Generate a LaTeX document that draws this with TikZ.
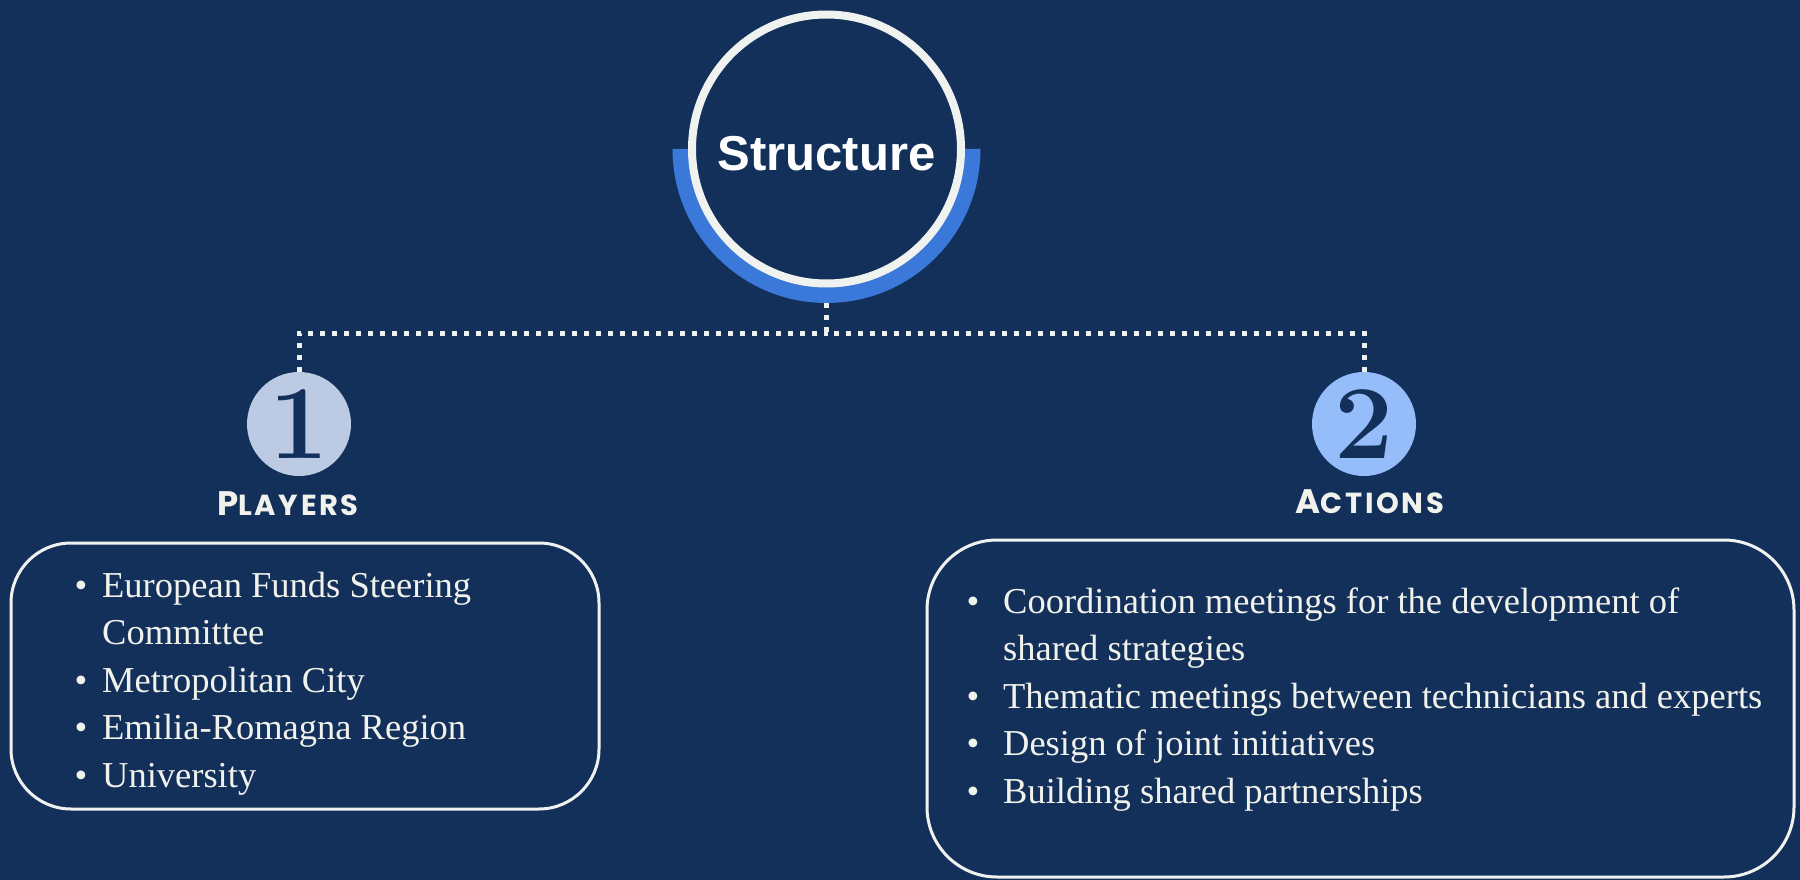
\documentclass[tikz,border=0pt]{standalone}
\usepackage{fontspec}
\usetikzlibrary{calc}
\newfontfamily\headfont{Liberation Sans}
\newfontfamily\capsfont{Poppins}[LetterSpace=9]
\newfontfamily\listfont{Liberation Serif}
\definecolor{navy}{HTML}{12305A}
\definecolor{arcblue}{HTML}{3A78D9}
\definecolor{ringwhite}{HTML}{F0F2F0}
\definecolor{paleblue}{HTML}{BCCBE3}
\definecolor{skyblue}{HTML}{94BDF9}
\definecolor{inkwhite}{HTML}{F2F2EC}
\newcommand{\heading}[2]{{\capsfont\bfseries\fontsize{34}{34}\selectfont #1\fontsize{29}{29}\selectfont #2}}
\newcommand{\bul}[1]{\makebox[#1][l]{\textbullet}}

\begin{document}
\begin{tikzpicture}[x=1pt,y=-1pt,
		dotline/.style={draw=ringwhite,line width=5pt,dash pattern=on 5pt off 7pt},
		numdisc/.style={circle,minimum size=104pt,inner sep=0pt,text=navy,font=\bfseries\fontsize{105}{105}\selectfont},
		capshead/.style={inner sep=0pt,text=inkwhite},
		listtext/.style={inner sep=0pt,text=inkwhite,font=\listfont\fontsize{36.5}{47.5}\selectfont},
		boxline/.style={draw=ringwhite,line width=3pt}]
			% Background
			\fill[navy] (0,0) rectangle (1800,880);
			
			% Title circle with blue half ring
			\fill[arcblue] (826.5,149) ++(-154,0) arc[start angle=180,end angle=0,radius=154]
				-- ++(-18,0) arc[start angle=0,end angle=180,radius=136] -- cycle;
			\node[circle,draw=ringwhite,line width=8pt,minimum size=269pt,inner sep=0pt] (struct) at (826.5,149) {};
			\node[inner sep=0pt,text=white,font=\headfont\bfseries\fontsize{49}{49}\selectfont] (title) at (826.5,154) {Structure};
			
			% Numbered discs
			\node[numdisc,fill=paleblue] (n1) at (299,424) {1};
			\node[numdisc,fill=skyblue] (n2) at (1364,424) {2};
			
			% Dotted connectors
			\coordinate (arcbot) at (826.5,303);
			\coordinate (hub) at (826.5,333);
			\draw[dotline] (arcbot) -- (hub);
			\draw[dotline] (n1.north) |- (hub);
			\draw[dotline] (n2.north) |- (hub);
			
			% Headings
			\node[capshead,anchor=base] (h1) at (288,515) {\heading{P}{LAYERS}};
			\node[capshead,anchor=base] (h2) at (1370,513) {\heading{A}{CTIONS}};
			
			% Boxes
			\draw[boxline,rounded corners=60pt] (11,543) rectangle (599,809);
			\draw[boxline,rounded corners=70pt] (927,540) rectangle (1794,877);
			
			% Lists
			\node[listtext,anchor=north west] (plist) at (74.5,563.75) {\begin{tabular}{@{}l@{}l@{}}
				\bul{27.5pt} & European Funds Steering\\
				& Committee\\
				\bul{27.5pt} & Metropolitan City\\
				\bul{27.5pt} & Emilia-Romagna Region\\
				\bul{27.5pt} & University
			\end{tabular}};
			\node[listtext,anchor=north west] (alist) at (966.5,579.75) {\begin{tabular}{@{}l@{}l@{}}
				\bul{36.5pt} & Coordination meetings for the development of\\
				& shared strategies\\
				\bul{36.5pt} & Thematic meetings between technicians and experts\\
				\bul{36.5pt} & Design of joint initiatives\\
				\bul{36.5pt} & Building shared partnerships
			\end{tabular}};
		\end{tikzpicture}
\end{document}
